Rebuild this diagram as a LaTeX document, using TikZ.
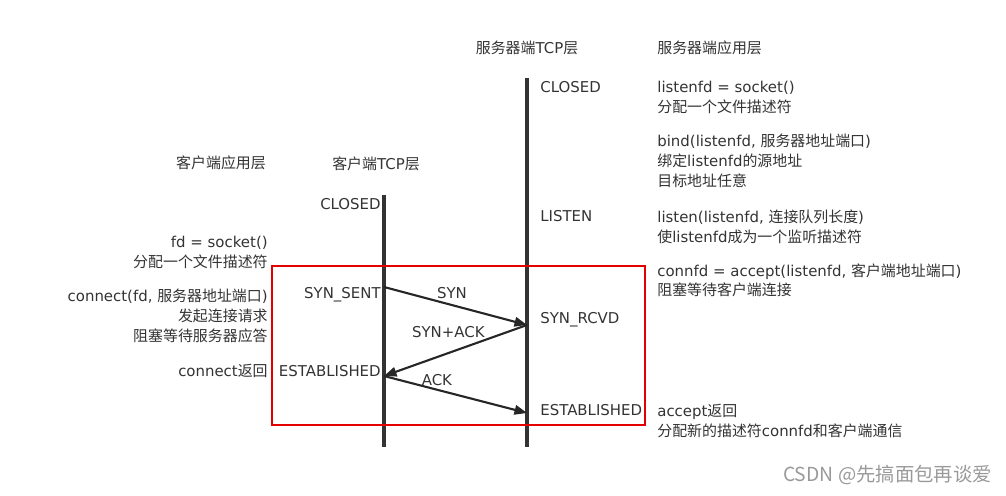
\documentclass[tikz,border=0pt]{standalone}
\usepackage{fontspec}
\setmainfont{DejaVu Sans}
\newfontfamily\zh{Noto Sans CJK SC}
\usetikzlibrary{arrows.meta}

\begin{document}
\begin{tikzpicture}[x=0.02cm, y=-0.02cm,
  txt/.style={font=\fontsize{8.5}{11.3}\selectfont, text=black!80, inner sep=0pt},
  app/.style={txt, align=left, anchor=north west},
  capp/.style={txt, align=right, anchor=north east},
  life/.style={line width=2pt, draw=black!80},
  msg/.style={-{Triangle[length=2.5mm, width=1.9mm]}, line width=1.2pt, draw=black!85},
  lbl/.style={txt, above, inner sep=1pt}]
	\useasboundingbox (0,0) rectangle (1006,496);

	\node [txt] (shead) at (527,48) {{\zh 服务器端}TCP{\zh 层}};
	\node [txt, anchor=west] (ahead) at (657,48) {\zh 服务器端应用层};
	\node [txt] (chead) at (376,164) {{\zh 客户端}TCP{\zh 层}};
	\node [txt] (uhead) at (221,163) {\zh 客户端应用层};

	\coordinate (stop) at (527,78);
	\coordinate (sbot) at (527,447);
	\coordinate (ctop) at (384,195);
	\coordinate (cbot) at (384,447);
	\draw [life] (stop) -- (sbot);
	\draw [life] (ctop) -- (cbot);

	\node [txt, anchor=west] (sclosed) at (540,87) {CLOSED};
	\node [txt, anchor=west] (slisten) at (540,216) {LISTEN};
	\node [txt, anchor=west] (srcvd) at (540,320) {SYN\_RCVD};
	\node [txt, anchor=west] (sestab) at (540,410) {ESTABLISHED};

	\node [txt, anchor=east] (cclosed) at (381,204) {CLOSED};
	\node [txt, anchor=east] (csent) at (381,295) {SYN\_SENT};
	\node [txt, anchor=east] (cestab) at (381,371) {ESTABLISHED};

	\node [app] (sock) at (657,81) {listenfd = socket()\\{\zh 分配一个文件描述符}};
	\node [app] (bind) at (657,134) {bind(listenfd, {\zh 服务器地址端口})\\{\zh 绑定}listenfd{\zh 的源地址}\\{\zh 目标地址任意}};
	\node [app] (listen) at (657,210) {listen(listenfd, {\zh 连接队列长度})\\{\zh 使}listenfd{\zh 成为一个监听描述符}};
	\node [app] (accept) at (657,263) {connfd = accept(listenfd, {\zh 客户端地址端口})\\{\zh 阻塞等待客户端连接}};
	\node [app] (aret) at (657,404) {accept{\zh 返回}\\{\zh 分配新的描述符}connfd{\zh 和客户端通信}};

	\node [capp] (fd) at (268,236) {fd = socket()\\{\zh 分配一个文件描述符}};
	\node [capp] (conn) at (268,289) {connect(fd, {\zh 服务器地址端口})\\{\zh 发起连接请求}\\{\zh 阻塞等待服务器应答}};
	\node [txt, anchor=east] (cret) at (268,371) {connect{\zh 返回}};

	\coordinate (c1) at (384,287);
	\coordinate (s1) at (527,325);
	\coordinate (c2) at (384,376);
	\coordinate (s2) at (527,413);
	\draw [msg] (c1) to node [lbl, pos=0.475, yshift=2pt] {SYN} (s1);
	\draw [msg] (s1) to node [lbl, pos=0.55, yshift=7pt] {SYN+ACK} (c2);
	\draw [msg] (c2) to node [lbl, pos=0.37, inner sep=0.5pt, yshift=1pt] {ACK} (s2);

	\draw [red!90!black, line width=1.3pt] (272,266) rectangle (645,425);

	\node [anchor=east, inner sep=0pt, text=black!40, font=\zh\fontsize{11}{13}\selectfont] (mark) at (992,475) {CSDN @先搞面包再谈爱};
\end{tikzpicture}
\end{document}
